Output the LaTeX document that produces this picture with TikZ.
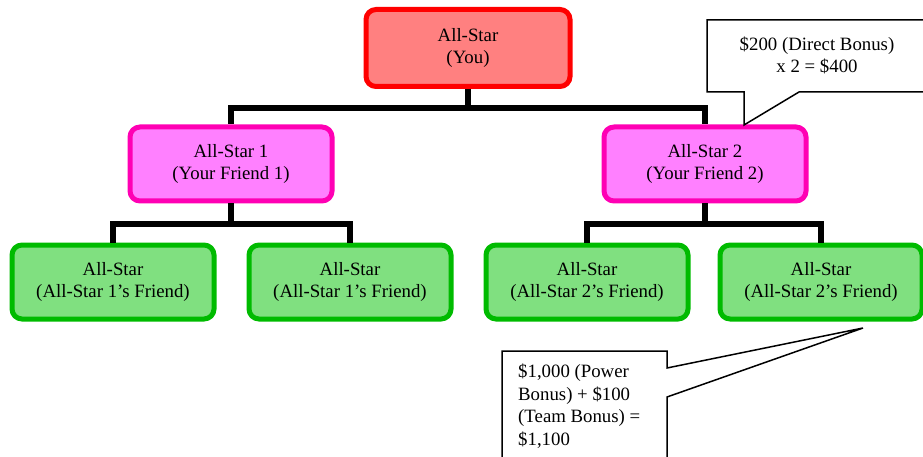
\documentclass[tikz,border=0pt]{standalone}
\usepackage{fontspec}
\setmainfont{Liberation Serif}
\usepackage{xcolor}
\definecolor{youfill}{RGB}{255,128,128}
\definecolor{youline}{RGB}{255,0,0}
\definecolor{friendfill}{RGB}{255,128,255}
\definecolor{friendline}{RGB}{255,0,180}
\definecolor{teamfill}{RGB}{128,224,128}
\definecolor{teamline}{RGB}{0,187,0}

\tikzset{
	starbox/.style={draw, rounded corners=10pt, line width=5pt, minimum width=202pt, minimum height=74pt, align=center, font=\fontsize{18.8}{21.5}\selectfont},
	link/.style={draw, line width=6pt},
	bubble/.style={draw, line width=1.5pt, fill=white}
}

\begin{document}
\begin{tikzpicture}[x=1pt,y=-1pt]
				\useasboundingbox (0,0) rectangle (923,457);
				\node[starbox, fill=youfill, draw=youline, minimum width=204pt, minimum height=77pt] (you) at (468,48) {All-Star\\(You)};
				\node[starbox, fill=friendfill, draw=friendline] (friend1) at (231,164) {All-Star 1\\(Your Friend 1)};
				\node[starbox, fill=friendfill, draw=friendline] (friend2) at (705,164) {All-Star 2\\(Your Friend 2)};
				\node[starbox, fill=teamfill, draw=teamline] (team1) at (113,282) {All-Star\\(All-Star 1's Friend)};
				\node[starbox, fill=teamfill, draw=teamline] (team2) at (350,282) {All-Star\\(All-Star 1's Friend)};
				\node[starbox, fill=teamfill, draw=teamline] (team3) at (587,282) {All-Star\\(All-Star 2's Friend)};
				\node[starbox, fill=teamfill, draw=teamline] (team4) at (821,282) {All-Star\\(All-Star 2's Friend)};
				\coordinate (split0) at (468,108);
				\coordinate (split1) at (231,224);
				\coordinate (split2) at (705,224);
				\draw[link] (you.south) -- (split0) -| (friend1.north);
				\draw[link] (split0) -| (friend2.north);
				\draw[link] (friend1.south) -- (split1) -| (team1.north);
				\draw[link] (split1) -| (team2.north);
				\draw[link] (friend2.south) -- (split2) -| (team3.north);
				\draw[link] (split2) -| (team4.north);
				\draw[bubble] (707,20) -- (926,20) -- (926,92) -- (799,92) -- (744,125) -- (744,92) -- (707,92) -- cycle;
				\node[align=center, font=\fontsize{18.8}{22}\selectfont] (direct) at (817,55) {\$200 (Direct Bonus)\\x 2 = \$400};
				\draw[bubble] (502,470) -- (502,351) -- (667,351) -- (667,368) -- (863,328) -- (667,397) -- (667,470);
				\node[anchor=north west, inner sep=0pt, align=left, font=\fontsize{18.8}{22.5}\selectfont] (power) at (518,364) {\$1,000 (Power\\Bonus) + \$100\\(Team Bonus) =\\\$1,100};
			\end{tikzpicture}
\end{document}
